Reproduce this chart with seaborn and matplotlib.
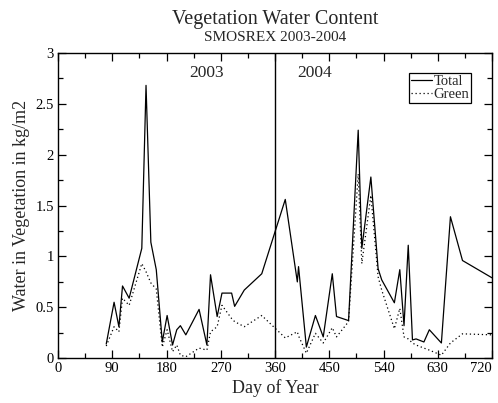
import matplotlib
matplotlib.use("Agg")
import matplotlib.pyplot as plt
from matplotlib.ticker import MultipleLocator, FormatStrFormatter
import seaborn as sns
import pandas as pd

# Sampling days (days counted from 1 Jan 2003; 2004 continues past 360)
days = [80, 93, 101, 107, 118, 139, 146, 154, 163, 173, 181, 190, 197, 203,
        212, 234, 247, 253, 264, 272, 288, 293, 309, 338, 377, 397, 399, 412,
        427, 440, 455, 462, 482, 498, 504, 519, 531, 537, 558, 567, 574, 581,
        588, 594, 607, 616, 636, 651, 671, 720]

# Total vegetation water content (kg/m2)
total = [0.14, 0.55, 0.31, 0.71, 0.59, 1.08, 2.68, 1.14, 0.87, 0.16, 0.42,
         0.13, 0.28, 0.32, 0.23, 0.48, 0.13, 0.82, 0.41, 0.64, 0.64, 0.51,
         0.67, 0.83, 1.56, 0.75, 0.90, 0.11, 0.42, 0.21, 0.83, 0.41, 0.37,
         2.24, 1.08, 1.78, 0.88, 0.77, 0.545, 0.87, 0.32, 1.11, 0.18, 0.19,
         0.16, 0.28, 0.15, 1.39, 0.96, 0.79]

# Green vegetation water content (kg/m2)
green = [0.12, 0.31, 0.26, 0.59, 0.52, 0.93, 0.85, 0.74, 0.68, 0.11, 0.28,
         0.065, 0.13, 0.03, 0.015, 0.10, 0.08, 0.26, 0.31, 0.52, 0.39, 0.36,
         0.31, 0.42, 0.20, 0.26, 0.22, 0.05, 0.245, 0.15, 0.30, 0.21, 0.36,
         1.81, 0.93, 1.60, 0.80, 0.67, 0.29, 0.49, 0.21, 0.19, 0.15, 0.13,
         0.10, 0.08, 0.03, 0.15, 0.24, 0.23]

series_names = ["Total", "Green"]
year_labels = ["2003", "2004"]
year_label_days = [247, 425]
year_boundary = 360
day_ticks = [0, 90, 180, 270, 360, 450, 540, 630, 720]

df = pd.DataFrame({
    "day": days * 2,
    "value": total + green,
    "series": [series_names[0]] * len(days) + [series_names[1]] * len(days),
})

sns.set_style("ticks")
plt.rcParams["font.family"] = ["Liberation Serif", "DejaVu Serif"]

fig = plt.figure(figsize=(4.98, 4.03), dpi=100)
ax = fig.add_axes([0.1165, 0.111, 0.8715, 0.758])

sns.lineplot(data=df, x="day", y="value", style="series",
             dashes={"Total": "", "Green": (1, 2.2)},
             color="black", linewidth=0.9, ax=ax, legend=False,
             estimator=None, sort=False)

ax.axvline(year_boundary, color="black", linewidth=1.0)

ax.set_xlim(0, 720)
ax.set_ylim(0, 3)
ax.set_xticks(day_ticks)
ax.set_xticklabels([str(d) for d in day_ticks])
ax.xaxis.set_minor_locator(MultipleLocator(45))
ax.yaxis.set_major_locator(MultipleLocator(0.5))
ax.yaxis.set_minor_locator(MultipleLocator(0.25))
ax.yaxis.set_major_formatter(FormatStrFormatter("%g"))

ax.tick_params(which="both", direction="in", top=True, right=True,
               colors="black", labelsize=10.5, width=0.9)
ax.tick_params(which="major", length=6, pad=3)
ax.tick_params(which="minor", length=3.5)
for sp in ax.spines.values():
    sp.set_linewidth(1.0)
    sp.set_color("black")
    sp.set_visible(True)

# keep the last day label inside the figure
ax.get_xticklabels()[-1].set_horizontalalignment("right")

ax.set_xlabel("Day of Year", fontsize=13, labelpad=3)
ax.set_ylabel("Water in Vegetation in kg/m2", fontsize=13, labelpad=4)

for lbl, d in zip(year_labels, year_label_days):
    ax.text(d, 2.8, lbl, ha="center", va="center", fontsize=12.5)

handles = [
    plt.Line2D([], [], color="black", linewidth=0.9),
    plt.Line2D([], [], color="black", linewidth=0.9, linestyle=(0, (1, 2.2))),
]
leg = ax.legend(handles, series_names, loc="upper right",
                bbox_to_anchor=(0.952, 0.934), borderaxespad=0,
                fontsize=10.5, handlelength=1.4, handletextpad=0.1,
                labelspacing=-0.05, borderpad=0.15, fancybox=False,
                frameon=True, framealpha=1)
leg.get_frame().set_edgecolor("black")
leg.get_frame().set_linewidth(0.9)

fig.text(0.552, 0.951, "Vegetation Water Content", ha="center", va="center",
         fontsize=14.5)
fig.text(0.552, 0.908, "SMOSREX 2003-2004", ha="center", va="center",
         fontsize=11)

fig.savefig("out.png", dpi=100)
